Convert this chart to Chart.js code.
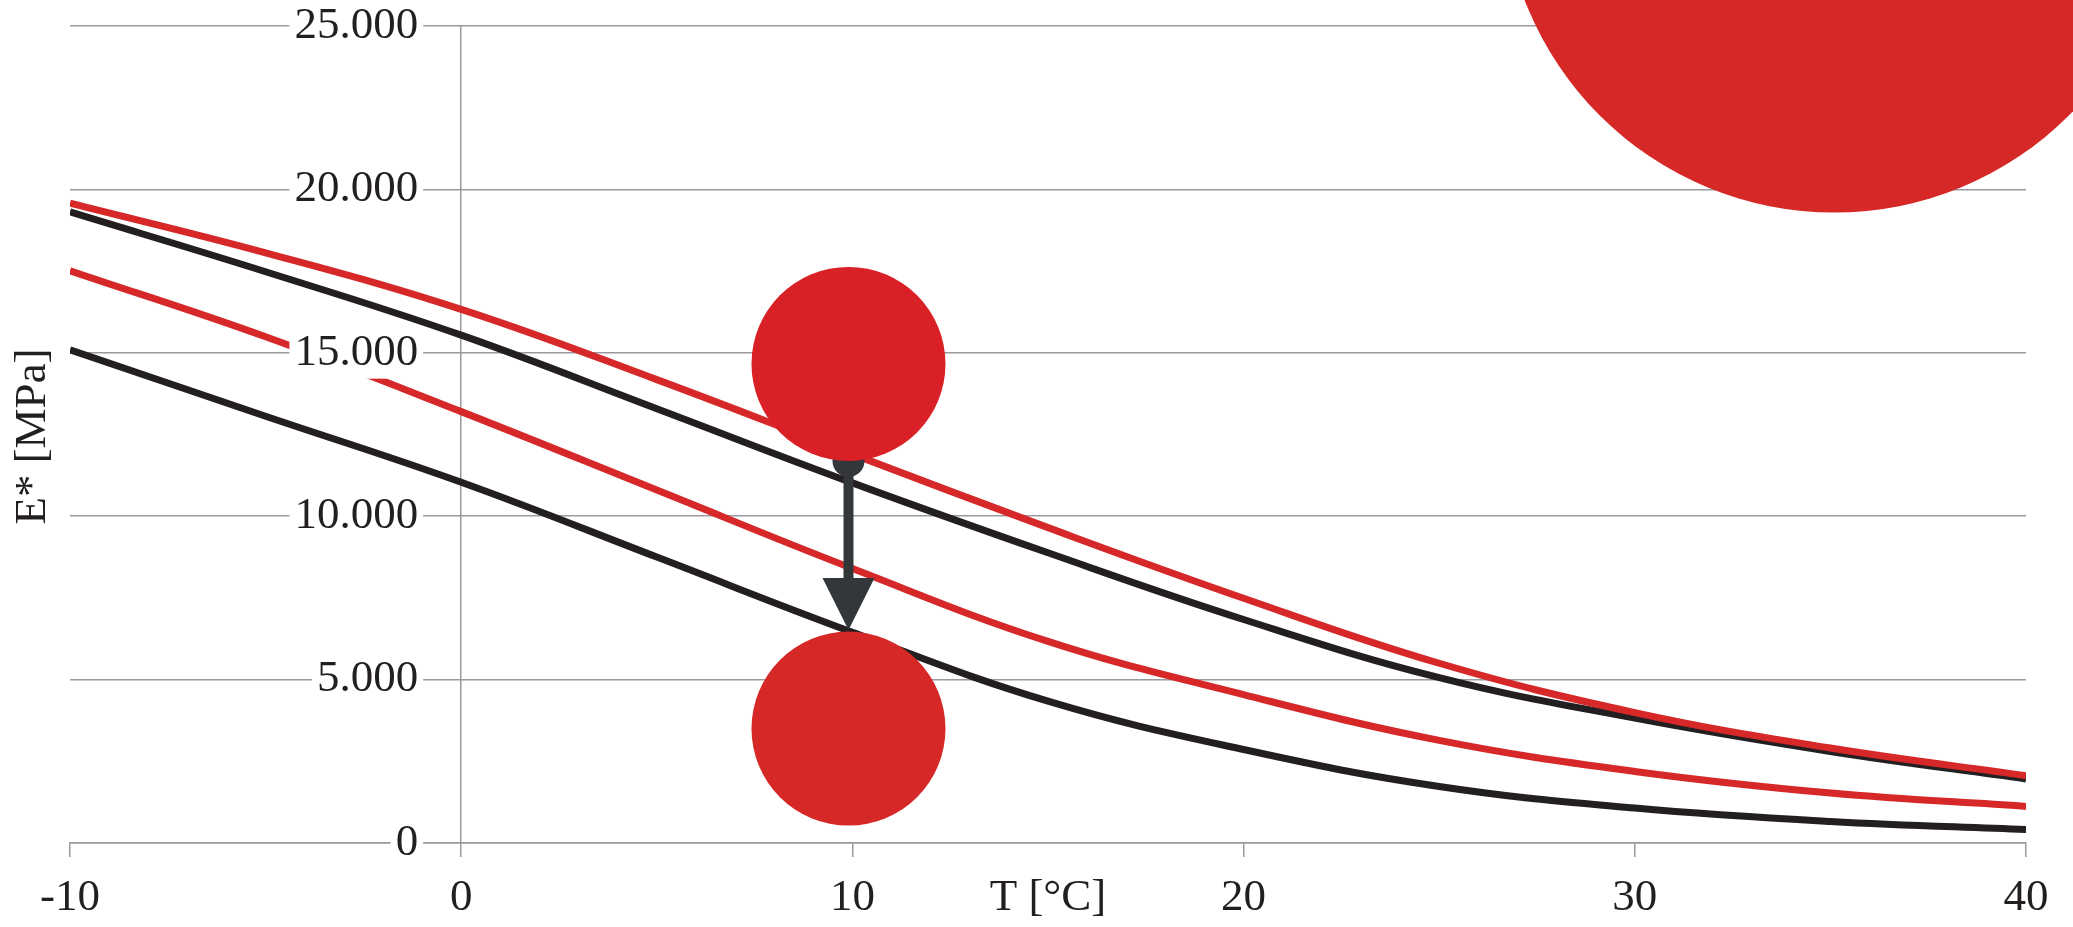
<!DOCTYPE html>
<html>
<head>
<meta charset="utf-8">
<script src="https://cdn.jsdelivr.net/npm/chart.js@4/dist/chart.umd.min.js"></script>
<style>
  html, body { margin: 0; padding: 0; background: #fff; }
  #wrap { width: 2073px; height: 927px; }
</style>
</head>
<body>
<div id="wrap"><canvas id="myChart"></canvas></div>
<script>
// temperature (°C) and stiffness E* (MPa)
var temperatures = [-10, -5, 0, 5, 10, 15, 20, 25, 30, 35, 40];
var redUpper   = [19580, 18060, 16330, 14180, 11900, 9650, 7490, 5500, 3990, 2905, 2060];
var blackUpper = [19310, 17480, 15540, 13290, 11020, 8880, 6840, 5060, 3820, 2800, 1960];
var redLower   = [17510, 15490, 13200, 10800, 8400, 6170, 4540, 3140, 2190, 1530, 1120];
var blackLower = [15090, 13060, 11040, 8750, 6450, 4340, 2860, 1730, 1070, 660, 410];

// the three marker dots
var circleX = [35.1, 9.9, 9.9];
var circleY = [29450, 14660, 3500];

// arrow between the two dots at 10 °C
var arrowX = 9.9;
var arrowFrom = 11690;
var arrowTo = 6520;

var xTicks = [-10, 0, 10, 20, 30, 40];
var yTicks = [0, 5000, 10000, 15000, 20000, 25000];

var RED = "#d62828";
var BLACK = "#231f20";
var GRID = "#9a9a9e";
var FONT = "'Liberation Serif', 'Times New Roman', serif";

function toPoints(xs, ys) {
  return xs.map(function (x, i) { return { x: x, y: ys[i] }; });
}

function formatThousands(v) {
  return String(v).replace(/\B(?=(\d{3})+(?!\d))/g, ".");
}

var arrowPlugin = {
  id: "arrow",
  beforeDatasetDraw: function (chart, args) {
    if (args.index !== 0) return;
    var x = chart.scales.x.getPixelForValue(arrowX);
    var y1 = chart.scales.y.getPixelForValue(arrowFrom);
    var y2 = chart.scales.y.getPixelForValue(arrowTo);
    var ctx = chart.ctx;
    ctx.save();
    ctx.fillStyle = "#343739";
    ctx.beginPath();
    ctx.arc(x, y1, 16, 0, Math.PI * 2);
    ctx.fill();
    ctx.fillRect(x - 5, y1, 10, y2 - 52 - y1 + 1);
    ctx.beginPath();
    ctx.moveTo(x - 26, y2 - 52);
    ctx.lineTo(x + 26, y2 - 52);
    ctx.lineTo(x, y2);
    ctx.closePath();
    ctx.fill();
    ctx.restore();
  }
};

var axisTitles = {
  id: "axisTitles",
  afterDraw: function (chart) {
    var ctx = chart.ctx;
    var area = chart.chartArea;
    ctx.save();
    ctx.fillStyle = BLACK;
    ctx.font = "45px " + FONT;
    ctx.textAlign = "center";
    ctx.textBaseline = "middle";
    ctx.fillText("T [°C]", (area.left + area.right) / 2, chart.scales.x.top + 55);
    ctx.translate(33, (area.top + area.bottom) / 2 + 2);
    ctx.rotate(-Math.PI / 2);
    ctx.fillText("E* [MPa]", 0, 0);
    ctx.restore();
  }
};

document.addEventListener("DOMContentLoaded", function () {
  var ctx = document.getElementById("myChart").getContext("2d");

  new Chart(ctx, {
    type: "line",
    data: {
      datasets: [{
        type: "scatter",
        data: toPoints(circleX, circleY),
        pointRadius: [332, 97, 97],
        pointBackgroundColor: ["#d52827", "#d92027", "#d52827"],
        pointBorderWidth: 0,
        pointHoverRadius: [332, 97, 97],
        showLine: false,
        clip: false,
        order: 0
      }, {
        data: toPoints(temperatures, redUpper),
        borderColor: RED,
        order: 1
      }, {
        data: toPoints(temperatures, redLower),
        borderColor: RED,
        order: 1
      }, {
        data: toPoints(temperatures, blackUpper),
        borderColor: BLACK,
        order: 2
      }, {
        data: toPoints(temperatures, blackLower),
        borderColor: BLACK,
        order: 2
      }]
    },
    options: {
      responsive: true,
      maintainAspectRatio: false,
      animation: false,
      events: [],
      elements: {
        line: { borderWidth: 7, tension: 0.4, fill: false },
        point: { radius: 0 }
      },
      layout: {
        autoPadding: false,
        padding: { left: 70, right: 47, top: 26, bottom: 0 }
      },
      scales: {
        x: {
          type: "linear",
          position: "bottom",
          min: -10,
          max: 40,
          afterBuildTicks: function (scale) {
            scale.ticks = xTicks.map(function (v) { return { value: v }; });
          },
          afterFit: function (scale) {
            scale.height = 84;
          },
          grid: {
            drawOnChartArea: true,
            drawTicks: true,
            tickLength: 14,
            color: function (c) {
              return c.tick && c.tick.value === 0 ? GRID : "rgba(0,0,0,0)";
            },
            tickColor: GRID,
            lineWidth: 1.5
          },
          border: { color: GRID, width: 1.5 },
          ticks: {
            padding: 14,
            color: BLACK,
            maxRotation: 0,
            autoSkip: false,
            font: { family: FONT, size: 45 }
          }
        },
        y: {
          // labels sit right-aligned at this x, just left of the 0 °C line
          position: { x: -1.1 },
          min: 0,
          max: 25000,
          afterBuildTicks: function (scale) {
            scale.ticks = yTicks.map(function (v) { return { value: v }; });
          },
          afterFit: function (scale) {
            scale.paddingTop = 0;
            scale.paddingBottom = 0;
          },
          grid: {
            color: GRID,
            lineWidth: 1.5,
            drawTicks: false
          },
          border: { display: false },
          ticks: {
            padding: 0,
            color: BLACK,
            z: 1,
            autoSkip: false,
            font: { family: FONT, size: 45, lineHeight: 1.15 },
            showLabelBackdrop: true,
            backdropColor: "#ffffff",
            backdropPadding: { left: 5, right: 5, top: 0, bottom: 0 },
            callback: function (value) {
              return formatThousands(value);
            }
          }
        }
      },
      plugins: {
        legend: { display: false },
        tooltip: { enabled: false }
      }
    },
    plugins: [arrowPlugin, axisTitles]
  });
});
</script>
</body>
</html>
